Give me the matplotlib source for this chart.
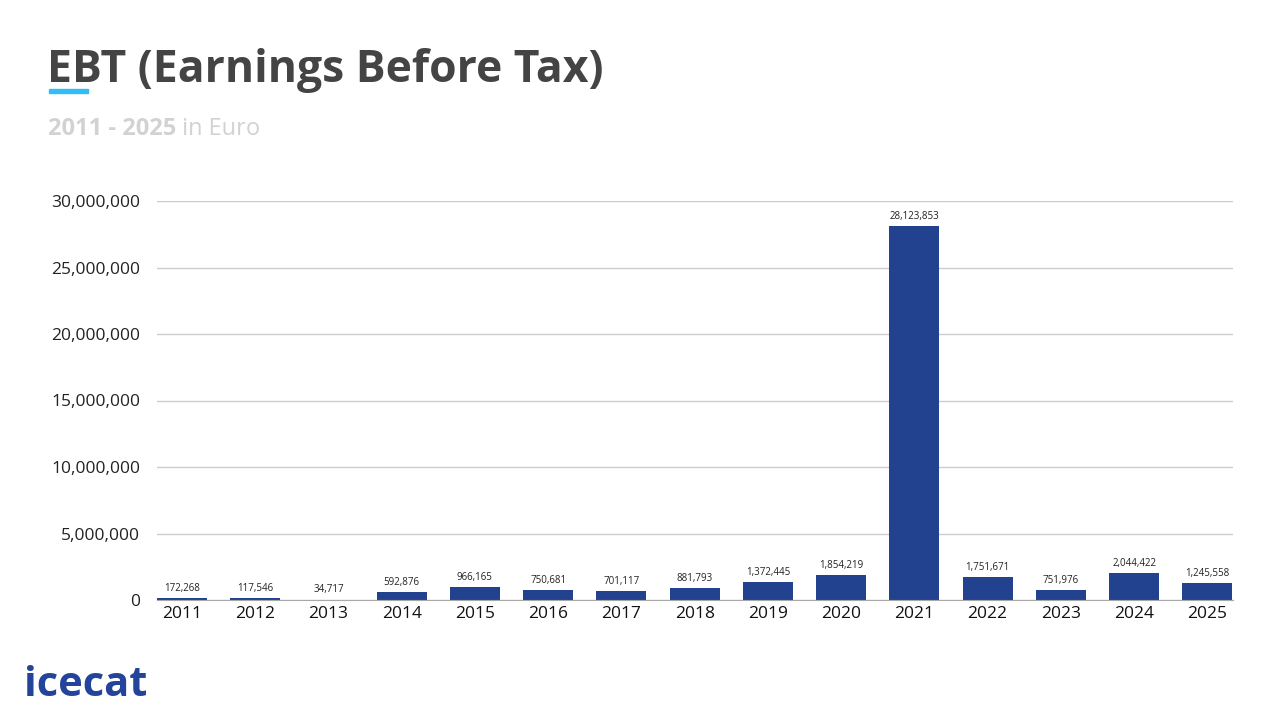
import matplotlib.pyplot as plt
from matplotlib.ticker import FuncFormatter

# EBT per year, in euro
YEARS = ['2011', '2012', '2013', '2014', '2015', '2016', '2017', '2018',
         '2019', '2020', '2021', '2022', '2023', '2024', '2025']
EBT = [172268, 117546, 34717, 592876, 966165, 750681, 701117, 881793,
       1372445, 1854219, 28123853, 1751671, 751976, 2044422, 1245558]
Y_TICKS = [0, 5000000, 10000000, 15000000, 20000000, 25000000, 30000000]

BAR_COLOR = '#22428f'
FONT = ['Open Sans', 'DejaVu Sans']
plt.rcParams['font.family'] = FONT

fig = plt.figure(figsize=(12.8, 7.2), dpi=100)
ax = fig.add_axes([157/1280, 1 - 600/720, (1233 - 157)/1280, (600 - 201)/720])

x = list(range(len(YEARS)))
bars = ax.bar(x, EBT, width=0.68, color=BAR_COLOR, zorder=3)
for b, v in zip(bars, EBT):
    ax.annotate(f'{v:,}', (b.get_x() + b.get_width()/2, v), xytext=(0, 3),
                textcoords='offset points', ha='center', va='bottom',
                fontsize=7, color='#222222')

ax.set_xlim(-0.34, len(YEARS) - 0.65)
ax.set_ylim(0, 30000000)
ax.set_yticks(Y_TICKS)
ax.yaxis.set_major_formatter(FuncFormatter(lambda v, p: f'{int(v):,}'))
ax.set_xticks(x)
ax.set_xticklabels(YEARS)
ax.tick_params(axis='y', length=0, pad=12, labelsize=12.5, labelcolor='#222222')
ax.tick_params(axis='x', length=0, pad=4, labelsize=12.5, labelcolor='#111111')
ax.grid(axis='y', color='#cccccc', linewidth=1, zorder=0)
for s in ['top', 'right', 'left']:
    ax.spines[s].set_visible(False)
ax.spines['bottom'].set_color('#a8a8a8')
ax.spines['bottom'].set_zorder(4)

# header
fig.text(47/1280, 1 - 82/720, 'EBT (Earnings Before Tax)', fontsize=32,
         fontweight='bold', color='#444444', ha='left', va='baseline')
fig.patches.append(plt.Rectangle((49/1280, 1 - 93/720), 39/1280, 4/720,
                                 transform=fig.transFigure, color='#33bdf6'))
t1 = fig.text(48/1280, 1 - 135/720, '2011 - 2025', fontsize=17,
              fontweight='bold', color='#d2d2d2', ha='left', va='baseline')
ax.annotate(' in Euro', xy=(1, 0), xycoords=t1, fontsize=17, color='#d2d2d2',
            ha='left', va='bottom', annotation_clip=False)

# logo
fig.text(24/1280, 1 - 696/720, 'icecat', fontsize=30, fontweight='bold',
         color='#23449a', ha='left', va='baseline')

fig.savefig('out.png', dpi=100)
